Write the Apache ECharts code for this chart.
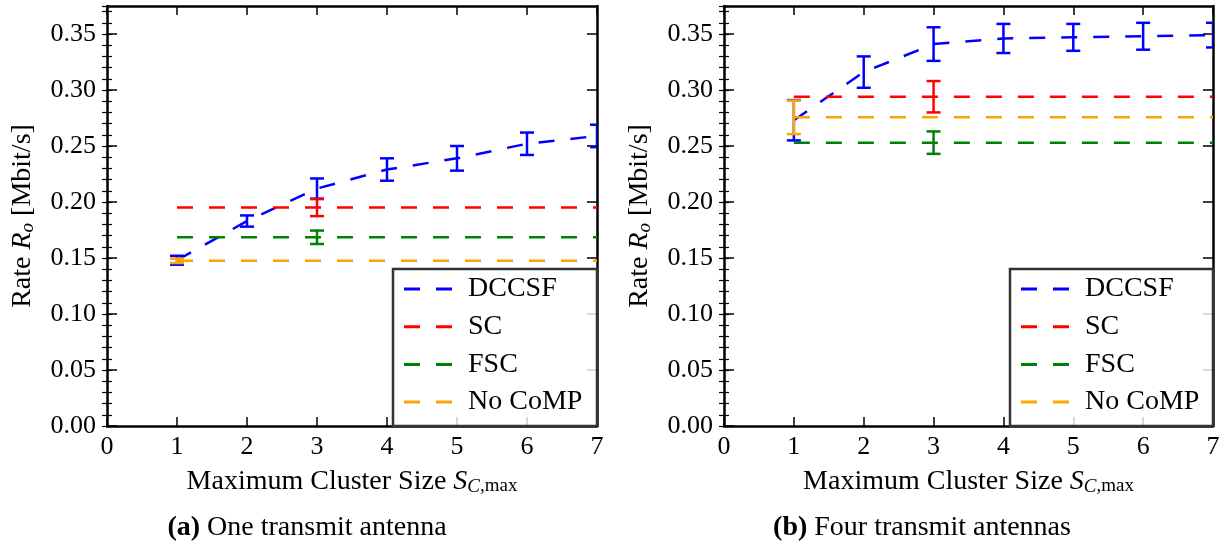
<!DOCTYPE html>
<html>
<head>
<meta charset="utf-8">
<script src="https://cdn.jsdelivr.net/npm/echarts@6/dist/echarts.min.js"></script>
<style>
  html, body { margin: 0; padding: 0; background: #fff; }
  #chart { width: 1226px; height: 546px; }
</style>
</head>
<body>
<div id="chart"></div>
<script>
// Shared axis ticks and series names
const clusterSizes = [1, 2, 3, 4, 5, 6, 7];
const xTickValues = [0, 1, 2, 3, 4, 5, 6, 7];
const yTickValues = [0, 0.05, 0.10, 0.15, 0.20, 0.25, 0.30, 0.35];
const seriesNames = ['DCCSF', 'SC', 'FSC', 'No CoMP'];
const seriesColors = ['#0000ff', '#ff0000', '#008000', '#ffa500'];

// (a) One transmit antenna: mean rate per maximum cluster size
const dccsfOne = [0.148, 0.183, 0.212, 0.229, 0.239, 0.252, 0.259];
const dccsfOneErr = [0.004, 0.005, 0.009, 0.010, 0.011, 0.010, 0.010];
const scOne = [0.195, 0.195, 0.195, 0.195, 0.195, 0.195, 0.195];
const scOneErr = [[3, 0.0076]];
const fscOne = [0.1685, 0.1685, 0.1685, 0.1685, 0.1685, 0.1685, 0.1685];
const fscOneErr = [[3, 0.006]];
const noCompOne = [0.1475, 0.1475, 0.1475, 0.1475, 0.1475, 0.1475, 0.1475];
const noCompOneErr = [[1, 0.002]];

// (b) Four transmit antennas
const dccsfFour = [0.273, 0.316, 0.341, 0.346, 0.347, 0.348, 0.349];
const dccsfFourErr = [0.018, 0.014, 0.015, 0.013, 0.012, 0.012, 0.011];
const scFour = [0.294, 0.294, 0.294, 0.294, 0.294, 0.294, 0.294];
const scFourErr = [[3, 0.014]];
const fscFour = [0.253, 0.253, 0.253, 0.253, 0.253, 0.253, 0.253];
const fscFourErr = [[3, 0.010]];
const noCompFour = [0.2756, 0.2756, 0.2756, 0.2756, 0.2756, 0.2756, 0.2756];
const noCompFourErr = [[1, 0.015]];

const captions = ['(a)', '(b)'];
const captionTexts = ['One transmit antenna', 'Four transmit antennas'];

const FONT = 'Liberation Serif';
const TICK_FS = 26;
const FS = 28;
const SUB_FS = 19;
const Y_MAX = 0.375;

const panels = [
  {
    grid: { left: 107, top: 6, width: 490, height: 420 },
    legendBox: { x: 393, y: 269, w: 204, h: 157 },
    captionX: 307,
    lines: [dccsfOne, scOne, fscOne, noCompOne],
    bars: [
      clusterSizes.map((x, i) => [x, dccsfOneErr[i]]),
      scOneErr, fscOneErr, noCompOneErr
    ]
  },
  {
    grid: { left: 724, top: 6, width: 489, height: 420 },
    legendBox: { x: 1010, y: 269, w: 203, h: 157 },
    captionX: 922,
    lines: [dccsfFour, scFour, fscFour, noCompFour],
    bars: [
      clusterSizes.map((x, i) => [x, dccsfFourErr[i]]),
      scFourErr, fscFourErr, noCompFourErr
    ]
  }
];

const tickText = { fontFamily: FONT, fontSize: TICK_FS, color: '#000' };
const baseText = { fontFamily: FONT, fontSize: FS, color: '#000' };

function errorBarItem(params, api) {
  const x = api.value(0);
  const top = api.coord([x, api.value(2)]);
  const bot = api.coord([x, api.value(1)]);
  const hw = 7;
  const style = { stroke: api.visual('color'), lineWidth: 2.5 };
  return {
    type: 'group',
    children: [
      { type: 'line', shape: { x1: top[0], y1: top[1], x2: bot[0], y2: bot[1] }, style },
      { type: 'line', shape: { x1: top[0] - hw, y1: top[1], x2: top[0] + hw, y2: top[1] }, style },
      { type: 'line', shape: { x1: bot[0] - hw, y1: bot[1], x2: bot[0] + hw, y2: bot[1] }, style }
    ]
  };
}

const option = {
  backgroundColor: '#fff',
  animation: false,
  grid: [], xAxis: [], yAxis: [], series: [], legend: [], graphic: []
};

const xName = '{t|Maximum Cluster Size }{i|S}{si|C}{s|,max}';
const yName = '{t|Rate }{i|R}{si|o}{t| [Mbit/s]}';
const nameRich = {
  t: { fontFamily: FONT, fontSize: FS, lineHeight: 32, verticalAlign: 'bottom' },
  i: { fontFamily: FONT, fontSize: FS, fontStyle: 'italic', lineHeight: 32, verticalAlign: 'bottom' },
  si: { fontFamily: FONT, fontSize: SUB_FS, fontStyle: 'italic', lineHeight: 15, verticalAlign: 'bottom' },
  s: { fontFamily: FONT, fontSize: SUB_FS, lineHeight: 15, verticalAlign: 'bottom' }
};

// legend sample: two dashes, as drawn by the dashed lines
const legendDash = 'path://M0,0h16v3h-16z M32,0h16v3h-16z';

panels.forEach((p, k) => {
  option.grid.push(p.grid);
  const xi = option.xAxis.length;
  const yi = option.yAxis.length;

  // bottom and top x axes
  option.xAxis.push({
    type: 'value', gridIndex: k, position: 'bottom', min: 0, max: 7, interval: 1,
    axisLine: { onZero: false, lineStyle: { color: '#000', width: 2.5 } },
    axisTick: { inside: true, length: 9, lineStyle: { color: '#000', width: 1.5 } },
    axisLabel: { ...tickText, margin: 8, customValues: xTickValues },
    splitLine: { show: false },
    name: xName, nameLocation: 'middle', nameGap: 38,
    nameTextStyle: { ...baseText, rich: nameRich }
  });
  option.xAxis.push({
    type: 'value', gridIndex: k, position: 'top', min: 0, max: 7, interval: 1,
    axisLine: { onZero: false, lineStyle: { color: '#000', width: 2.5 } },
    axisTick: { inside: true, length: 9, lineStyle: { color: '#000', width: 1.5 } },
    axisLabel: { show: false },
    splitLine: { show: false }
  });

  // left/right y axes: major ticks and 0.01 minor ticks
  const major = (pos, withLabels) => ({
    type: 'value', gridIndex: k, position: pos, min: 0, max: Y_MAX,
    axisLine: { onZero: false, show: true, lineStyle: { color: '#000', width: 2.5 } },
    axisTick: { inside: true, length: 10, customValues: yTickValues, lineStyle: { color: '#000', width: 1.5 } },
    axisLabel: withLabels
      ? { ...tickText, margin: 11, customValues: yTickValues, formatter: v => v.toFixed(2) }
      : { show: false },
    splitLine: { show: false }
  });
  const minor = pos => ({
    type: 'value', gridIndex: k, position: pos, min: 0, max: Y_MAX, interval: 0.01,
    axisLine: { show: false },
    axisTick: { inside: true, length: 5, lineStyle: { color: '#000', width: 1.2 } },
    axisLabel: { show: false },
    splitLine: { show: false }
  });
  const yLeft = major('left', true);
  yLeft.name = yName;
  yLeft.nameLocation = 'middle';
  yLeft.nameGap = 70;
  yLeft.nameTextStyle = { ...baseText, rich: nameRich };
  option.yAxis.push(yLeft, minor('left'), major('right', false), minor('right'));

  // dashed lines
  p.lines.forEach((vals, s) => {
    option.series.push({
      name: seriesNames[s], type: 'line', xAxisIndex: xi, yAxisIndex: yi,
      data: clusterSizes.map((x, i) => [x, vals[i]]),
      symbol: 'none', clip: true, z: 2,
      color: seriesColors[s],
      lineStyle: { color: seriesColors[s], width: 2.5, type: [16, 16] }
    });
  });
  // error bars
  p.bars.forEach((bars, s) => {
    const vals = p.lines[s];
    option.series.push({
      name: seriesNames[s] + ' error', type: 'custom', xAxisIndex: xi, yAxisIndex: yi,
      renderItem: errorBarItem, clip: true, z: 3,
      itemStyle: { color: seriesColors[s] },
      encode: { x: 0, y: [1, 2] },
      data: bars.map(([x, e]) => [x, vals[x - 1] - e, vals[x - 1] + e])
    });
  });

  // legend and its frame
  const b = p.legendBox;
  option.graphic.push({
    type: 'rect', z: 3, silent: true,
    shape: { x: b.x, y: b.y, width: b.w, height: b.h },
    style: { fill: 'rgba(255,255,255,0.8)', stroke: '#333', lineWidth: 2.5 }
  });
  option.legend.push({
    orient: 'vertical', left: b.x, top: b.y, z: 5,
    padding: [6, 4, 6, 11], itemWidth: 48, itemHeight: 3, itemGap: 9.7,
    icon: legendDash,
    selectedMode: false, data: seriesNames,
    textStyle: { ...baseText, padding: [0, 0, 0, 11], lineHeight: 28 }
  });

  // caption under each panel
  option.graphic.push({
    type: 'text', x: p.captionX, y: 528, silent: true,
    style: {
      text: '{b|' + captions[k] + '} ' + captionTexts[k],
      align: 'center', verticalAlign: 'middle',
      fontFamily: FONT, fontSize: FS, fill: '#000',
      rich: { b: { fontFamily: FONT, fontSize: FS, fontWeight: 'bold', fill: '#000' } }
    }
  });
});

const chart = echarts.init(document.getElementById('chart'), null, { renderer: 'canvas' });
chart.setOption(option);
</script>
</body>
</html>
